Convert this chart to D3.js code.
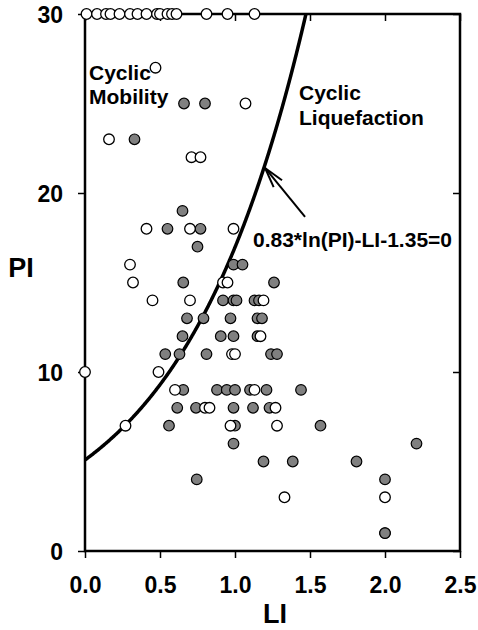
<!DOCTYPE html>
<html>
<head>
<meta charset="utf-8">
<script src="https://cdn.jsdelivr.net/npm/d3@7"></script>
<style>
  html, body { margin: 0; padding: 0; background: #fff; }
  svg { display: block; }
  text { font-family: "Liberation Sans", Arial, sans-serif; font-weight: bold; fill: #000; }
</style>
</head>
<body>
<svg id="chart" width="478" height="630"></svg>
<script>
// ---- data ----
const xTicks = [0, 0.5, 1.0, 1.5, 2.0, 2.5];
const yTicks = [0, 10, 20, 30];

// open (white) circles
const openLI = [0.01,0.08,0.14,0.17,0.23,0.30,0.35,0.41,0.48,0.50,0.55,0.58,0.61,0.81,0.95,1.13,
  0.47,1.07,0.16,0.71,0.77,0.41,0.70,0.99,0.30,0.32,0.92,0.95,0.45,0.70,1.19,1.17,0.98,1.00,
  0.00,0.49,0.60,1.13,0.80,0.83,1.27,0.27,0.97,1.28,1.33,2.00];
const openPI = [30,30,30,30,30,30,30,30,30,30,30,30,30,30,30,30,
  27,25,23,22,22,18,18,18,16,15,15,15,14,14,14,12,11,11,
  10,10,9,9,8,8,8,7,7,7,3,3];

// grey (filled) circles
const greyLI = [0.66,0.80,0.33,0.65,0.55,0.77,0.75,0.99,1.05,0.655,1.26,
  0.92,0.99,1.01,1.13,1.16, 0.68,0.79,0.97,1.15,1.18, 0.65,0.905,0.99,1.15,
  0.535,0.63,0.81,1.24,1.28, 0.655,0.88,0.945,1.00,1.10,1.21,1.44,
  0.615,0.74,0.99,1.12,1.23, 0.56,1.00,1.57, 0.99,2.21, 1.19,1.385,1.81, 0.745,2.00, 2.00,2.00];
const greyPI = [25,25,23,19,18,18,17,16,16,15,15,
  14,14,14,14,14, 13,13,13,13,13, 12,12,12,12,
  11,11,11,11,11, 9,9,9,9,9,9,9,
  8,8,8,8,8, 7,7,7, 6,6, 5,5,5, 4,4, 1,1];

// boundary: 0.83*ln(PI) - LI - 1.35 = 0
const boundaryPI = d3.range(5.09, 30.001, 0.05);
const arrowTail = [1.467, 18.66];
const arrowTip = [1.20, 21.4];

// ---- layout ----
const svg = d3.select("#chart");
const L = 85, R = 460, T = 14, B = 551;
const x = d3.scaleLinear().domain([0, 2.5]).range([L, R]);
const y = d3.scaleLinear().domain([0, 30]).range([B, T]);

// frame
svg.append("rect").attr("x", L).attr("y", T).attr("width", R - L).attr("height", B - T)
  .attr("fill", "none").attr("stroke", "#000").attr("stroke-width", 2.5);

// axes
const xAxis = svg.append("g").attr("transform", `translate(0,${B})`)
  .call(d3.axisBottom(x).tickValues(xTicks).tickSize(7).tickFormat(d3.format(".1f")));
const xTop = svg.append("g").attr("transform", `translate(0,${T})`)
  .call(d3.axisBottom(x).tickValues(xTicks).tickSize(7).tickFormat(""));
const yAxis = svg.append("g").attr("transform", `translate(${L},0)`)
  .call(d3.axisLeft(y).tickValues(yTicks).tickSize(7).tickFormat(d3.format("d")));
const yRight = svg.append("g").attr("transform", `translate(${R},0)`)
  .call(d3.axisLeft(y).tickValues(yTicks).tickSize(7).tickFormat(""));
[xAxis, xTop, yAxis, yRight].forEach(g => {
  g.select(".domain").remove();
  g.selectAll(".tick line").attr("stroke", "#000").attr("stroke-width", 1.5);
});
xAxis.selectAll(".tick text").attr("y", 0).attr("dy", 0)
  .attr("transform", "translate(0,42)")
  .style("font-size", "23px").style("font-family", "Liberation Sans, Arial, sans-serif").style("font-weight", "bold");
yAxis.selectAll(".tick text").attr("x", -22).attr("dy", "0.36em")
  .style("font-size", "23px").style("font-family", "Liberation Sans, Arial, sans-serif").style("font-weight", "bold");

// axis titles
svg.append("text").attr("x", 21).attr("y", 277).attr("text-anchor", "middle")
  .style("font-size", "27px").text("PI");
svg.append("text").attr("x", 275).attr("y", 623).attr("text-anchor", "middle")
  .style("font-size", "27px").text("LI");

// boundary curve
const line = d3.line().x(p => x(0.83 * Math.log(p) - 1.35)).y(p => y(p));
svg.append("path").datum(boundaryPI).attr("d", line)
  .attr("fill", "none").attr("stroke", "#000").attr("stroke-width", 3.5);

// points
const greys = greyLI.map((v, i) => ({ li: v, pi: greyPI[i] }));
const opens = openLI.map((v, i) => ({ li: v, pi: openPI[i] }));
svg.append("g").selectAll("circle").data(greys).join("circle")
  .attr("cx", d => x(d.li)).attr("cy", d => y(d.pi)).attr("r", 5.3)
  .attr("fill", "#808080").attr("stroke", "#000").attr("stroke-width", 1.2);
svg.append("g").selectAll("circle").data(opens).join("circle")
  .attr("cx", d => x(d.li)).attr("cy", d => y(d.pi)).attr("r", 5.3)
  .attr("fill", "#fff").attr("stroke", "#000").attr("stroke-width", 1.3);

// arrow
const tx = x(arrowTail[0]), ty = y(arrowTail[1]);
const hx = x(arrowTip[0]), hy = y(arrowTip[1]);
svg.append("line").attr("x1", tx).attr("y1", ty).attr("x2", hx).attr("y2", hy)
  .attr("stroke", "#000").attr("stroke-width", 2);
const ang = Math.atan2(ty - hy, tx - hx);
[-0.26, 0.26].forEach(da => {
  svg.append("line").attr("x1", hx).attr("y1", hy)
    .attr("x2", hx + 21 * Math.cos(ang + da)).attr("y2", hy + 21 * Math.sin(ang + da))
    .attr("stroke", "#000").attr("stroke-width", 2);
});

// annotations
const ann = [
  ["Cyclic", 89, 80], ["Mobility", 89, 104],
  ["Cyclic", 299, 100], ["Liquefaction", 299, 125],
  ["0.83*ln(PI)-LI-1.35=0", 253, 247]
];
ann.forEach(a => svg.append("text").attr("x", a[1]).attr("y", a[2])
  .style("font-size", "21px").text(a[0]));
</script>
</body>
</html>
